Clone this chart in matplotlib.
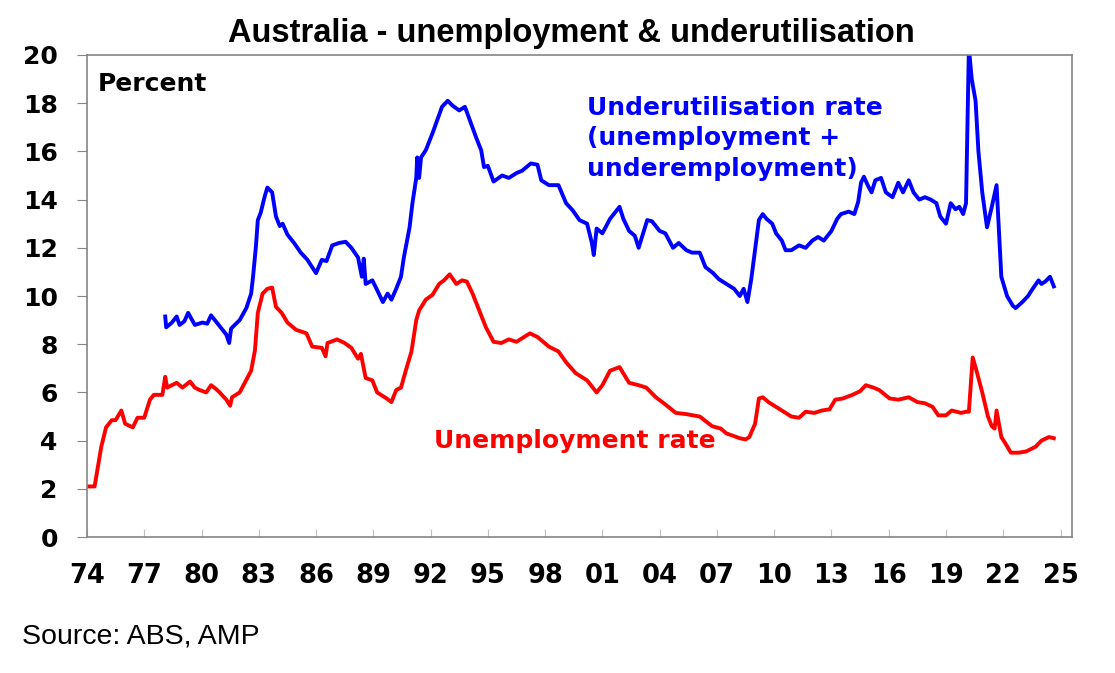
import numpy as np
import matplotlib.pyplot as plt

plt.rcParams['font.family'] = ['DejaVu Sans']

# unemployment rate (%), decimal year
ur_year = [1974.0, 1974.4, 1974.55, 1974.75, 1975.0, 1975.3, 1975.5, 1975.8, 1976.0, 1976.4,
           1976.65, 1977.0, 1977.3, 1977.5, 1977.95, 1978.1, 1978.2, 1978.45, 1978.7, 1979.0,
           1979.4, 1979.65, 1979.9, 1980.25, 1980.5, 1980.75, 1980.95, 1981.3, 1981.5, 1981.6,
           1982.0, 1982.3, 1982.6, 1982.8, 1982.95, 1983.2, 1983.45, 1983.7, 1983.9, 1984.2,
           1984.5, 1984.95, 1985.5, 1985.8, 1986.3, 1986.5, 1986.6, 1987.1, 1987.5, 1987.85,
           1988.2, 1988.35, 1988.6, 1988.95, 1989.2, 1989.7, 1989.95, 1990.2, 1990.45, 1990.7,
           1991.0, 1991.25, 1991.4, 1991.75, 1992.1, 1992.45, 1992.7, 1993.0, 1993.35, 1993.65,
           1993.9, 1994.2, 1994.55, 1994.9, 1995.3, 1995.7, 1996.1, 1996.5, 1996.9, 1997.2,
           1997.6, 1998.2, 1998.7, 1999.1, 1999.6, 2000.2, 2000.7, 2001.0, 2001.4, 2001.9,
           2002.4, 2002.9, 2003.3, 2003.8, 2004.3, 2004.85, 2005.4, 2006.1, 2006.75, 2007.2,
           2007.5, 2008.2, 2008.5, 2008.7, 2009.0, 2009.2, 2009.4, 2009.7, 2010.1, 2010.5,
           2010.9, 2011.3, 2011.65, 2012.1, 2012.5, 2012.9, 2013.2, 2013.6, 2014.1, 2014.5,
           2014.8, 2015.2, 2015.5, 2016.05, 2016.5, 2017.05, 2017.5, 2017.9, 2018.3, 2018.6,
           2019.0, 2019.3, 2019.8, 2020.05, 2020.2, 2020.3, 2020.4, 2020.6, 2020.9, 2021.2,
           2021.4, 2021.55, 2021.65, 2021.9, 2022.1, 2022.4, 2022.8, 2023.2, 2023.7, 2024.0,
           2024.4, 2024.65]
ur_rate = [2.1, 2.1, 2.8, 3.75, 4.55, 4.85, 4.85, 5.25, 4.7, 4.55,
           4.95, 4.95, 5.7, 5.9, 5.9, 6.65, 6.2, 6.3, 6.4, 6.2,
           6.45, 6.2, 6.1, 6.0, 6.3, 6.15, 6.0, 5.7, 5.45, 5.8,
           6.0, 6.45, 6.9, 7.75, 9.3, 10.1, 10.3, 10.35, 9.55, 9.3,
           8.9, 8.6, 8.45, 7.9, 7.85, 7.5, 8.05, 8.2, 8.05, 7.85,
           7.4, 7.6, 6.6, 6.5, 6.0, 5.75, 5.6, 6.1, 6.2, 6.9,
           7.7, 9.0, 9.4, 9.85, 10.05, 10.5, 10.65, 10.9, 10.5, 10.65,
           10.6, 10.1, 9.4, 8.7, 8.1, 8.05, 8.2, 8.1, 8.3, 8.45,
           8.3, 7.9, 7.7, 7.25, 6.8, 6.5, 6.0, 6.3, 6.9, 7.05,
           6.4, 6.3, 6.2, 5.8, 5.5, 5.15, 5.1, 5.0, 4.6, 4.5,
           4.3, 4.1, 4.05, 4.15, 4.7, 5.75, 5.8, 5.6, 5.4, 5.2,
           5.0, 4.95, 5.2, 5.15, 5.25, 5.3, 5.7, 5.75, 5.9, 6.05,
           6.3, 6.2, 6.1, 5.75, 5.7, 5.8, 5.6, 5.55, 5.4, 5.05,
           5.05, 5.25, 5.15, 5.2, 5.2, 6.3, 7.45, 6.9, 6.0, 5.0,
           4.6, 4.5, 5.25, 4.15, 3.9, 3.5, 3.5, 3.55, 3.75, 4.0,
           4.15, 4.1]

# underutilisation rate (%), decimal year
uu_year = [1978.1, 1978.15, 1978.45, 1978.7, 1978.85, 1979.1, 1979.3, 1979.65, 1980.05, 1980.3,
           1980.5, 1980.8, 1981.1, 1981.3, 1981.45, 1981.55, 1982.0, 1982.35, 1982.6, 1982.7,
           1982.85, 1982.95, 1983.1, 1983.3, 1983.45, 1983.7, 1983.9, 1984.1, 1984.25, 1984.5,
           1984.85, 1985.2, 1985.55, 1986.0, 1986.3, 1986.55, 1986.85, 1987.2, 1987.55, 1987.85,
           1988.2, 1988.4, 1988.5, 1988.6, 1988.95, 1989.2, 1989.5, 1989.75, 1989.95, 1990.2,
           1990.45, 1990.6, 1990.9, 1991.05, 1991.25, 1991.3, 1991.4, 1991.5, 1991.75, 1992.1,
           1992.35, 1992.6, 1992.9, 1993.15, 1993.5, 1993.8, 1994.1, 1994.4, 1994.65, 1994.8,
           1995.0, 1995.3, 1995.75, 1996.1, 1996.5, 1996.8, 1997.25, 1997.6, 1997.8, 1998.2,
           1998.7, 1999.1, 1999.45, 1999.8, 2000.2, 2000.45, 2000.55, 2000.7, 2001.0, 2001.4,
           2001.9, 2002.1, 2002.4, 2002.7, 2002.9, 2003.35, 2003.6, 2004.0, 2004.3, 2004.7,
           2005.0, 2005.4, 2005.7, 2006.1, 2006.4, 2006.8, 2007.1, 2007.5, 2007.9, 2008.2,
           2008.4, 2008.6, 2008.8, 2009.2, 2009.4, 2009.6, 2009.9, 2010.1, 2010.4, 2010.6,
           2010.9, 2011.3, 2011.65, 2012.0, 2012.3, 2012.6, 2013.0, 2013.3, 2013.5, 2013.9,
           2014.2, 2014.4, 2014.55, 2014.7, 2014.9, 2015.1, 2015.3, 2015.6, 2015.85, 2016.2,
           2016.5, 2016.75, 2017.05, 2017.3, 2017.6, 2017.9, 2018.2, 2018.5, 2018.7, 2019.0,
           2019.25, 2019.5, 2019.7, 2019.9, 2020.05, 2020.2, 2020.35, 2020.55, 2020.7, 2020.9,
           2021.15, 2021.4, 2021.65, 2021.9, 2022.2, 2022.5, 2022.65, 2023.0, 2023.3, 2023.5,
           2023.85, 2024.0, 2024.2, 2024.45, 2024.65]
uu_rate = [9.15, 8.7, 8.9, 9.15, 8.8, 8.95, 9.3, 8.8, 8.9, 8.85,
           9.2, 8.9, 8.6, 8.4, 8.05, 8.65, 9.0, 9.5, 10.1, 10.8,
           12.05, 13.15, 13.45, 14.1, 14.5, 14.3, 13.3, 12.9, 13.0, 12.55,
           12.2, 11.8, 11.5, 10.95, 11.5, 11.45, 12.1, 12.2, 12.25, 12.0,
           11.6, 10.8, 11.55, 10.5, 10.65, 10.25, 9.75, 10.1, 9.85, 10.3,
           10.8, 11.6, 12.85, 13.85, 14.9, 15.75, 14.9, 15.75, 16.05, 16.75,
           17.3, 17.85, 18.1, 17.9, 17.7, 17.85, 17.2, 16.55, 16.05, 15.35,
           15.4, 14.75, 15.0, 14.9, 15.1, 15.2, 15.5, 15.45, 14.8, 14.6,
           14.6, 13.85, 13.55, 13.15, 13.0, 12.2, 11.7, 12.8, 12.6, 13.2,
           13.7, 13.2, 12.7, 12.5, 12.0, 13.15, 13.1, 12.7, 12.6, 12.0,
           12.2, 11.9, 11.8, 11.8, 11.2, 10.95, 10.7, 10.5, 10.3, 10.0,
           10.3, 9.75, 10.7, 13.15, 13.4, 13.2, 13.0, 12.6, 12.3, 11.9,
           11.9, 12.1, 12.0, 12.3, 12.45, 12.3, 12.7, 13.2, 13.4, 13.5,
           13.4, 13.9, 14.7, 14.95, 14.6, 14.3, 14.8, 14.9, 14.3, 14.1,
           14.7, 14.3, 14.8, 14.3, 14.0, 14.1, 14.0, 13.85, 13.3, 13.0,
           13.85, 13.6, 13.7, 13.4, 13.85, 20.3, 19.0, 18.1, 16.0, 14.3,
           12.85, 13.7, 14.6, 10.8, 10.0, 9.6, 9.5, 9.75, 10.0, 10.25,
           10.65, 10.5, 10.6, 10.8, 10.4]

tick_years = np.arange(1974, 2026, 3)
tick_labels = ['%02d' % (y % 100) for y in tick_years]

fig = plt.figure(figsize=(11.15, 6.73), dpi=100)
ax = fig.add_axes([0.078, 0.202, 0.8834, 0.7163])

ax.plot(uu_year, uu_rate, color='#0000FF', lw=2.8, solid_joinstyle='round')
ax.plot(ur_year, ur_rate, color='#FF0000', lw=2.8, solid_joinstyle='round')

ax.set_xlim(1974, 2025.6)
ax.set_ylim(0, 20)
ax.set_yticks(np.arange(0, 21, 2))
ax.set_xticks(tick_years)
ax.set_xticklabels(tick_labels)

for s in ax.spines.values():
    s.set_color('#868686')
    s.set_linewidth(1.2)
ax.tick_params(axis='y', direction='out', length=7, color='#868686', labelsize=18, pad=14)
ax.tick_params(axis='x', direction='in', length=5.5, color='#C0C0C0', labelsize=18.5, pad=19)
for lab in ax.get_xticklabels() + ax.get_yticklabels():
    lab.set_fontweight('bold')

# title is narrower Arial-like bold
fig.text(0.512, 0.95, 'Australia - unemployment & underutilisation', fontsize=23.5,
         fontweight='bold', family='Liberation Sans', ha='center', va='center')
ax.text(0.011, 0.94, 'Percent', transform=ax.transAxes, fontsize=18, fontweight='bold', va='center')
ax.text(0.5076, 0.915, 'Underutilisation rate\n(unemployment +\nunderemployment)', transform=ax.transAxes,
        fontsize=18, fontweight='bold', color='#0000FF', va='top', linespacing=1.33)
ax.text(0.352, 0.199, 'Unemployment rate', transform=ax.transAxes, fontsize=18,
        fontweight='bold', color='#FF0000', va='center')
fig.text(0.02, 0.0535, 'Source: ABS, AMP', fontsize=20.5, family='Liberation Sans', va='center')

fig.savefig('out.png', dpi=100)
